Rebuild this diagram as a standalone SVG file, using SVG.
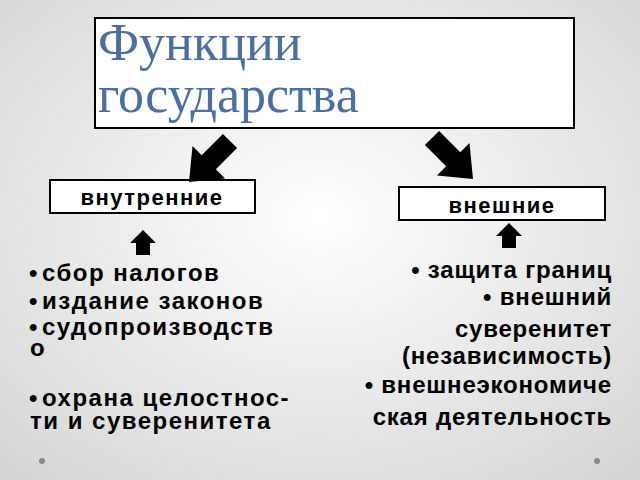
<svg xmlns="http://www.w3.org/2000/svg" width="640" height="480" viewBox="0 0 640 480">
<defs>
<radialGradient id="bg" cx="50%" cy="45%" r="75%">
<stop offset="0" stop-color="#ffffff"/><stop offset="1" stop-color="#d4d4d4"/>
</radialGradient>
<polygon id="arr" points="0,-10 30,-10 30,-23 58,0 30,23 30,10 0,10"/>
<polygon id="up" points="-7,12 -7,0 -13,0 0,-13 13,0 7,0 7,12"/>
</defs>
<style>
.box{fill:#fff;stroke:#000;stroke-width:2}
.lbl{font-family:"Liberation Sans",Arial,sans-serif;font-weight:bold;font-size:22px;letter-spacing:1.5px;fill:#000}
.li{font-family:"Liberation Sans",Arial,sans-serif;font-weight:bold;font-size:24px;fill:#000}
.ls{letter-spacing:1.5px}
.rs{letter-spacing:0.8px}
.ttl{font-family:"Liberation Serif","Times New Roman",serif;font-size:52px;fill:#4a6fa5}
.dot{fill:#8a8a8a}
</style>
<rect width="640" height="480" fill="url(#bg)"/>
<g id="title"><rect class="box" x="95" y="18" width="479" height="110"/>
<text class="ttl" x="98" y="60">Функции</text><text class="ttl" x="98" y="112">государства</text></g>
<g id="internal"><rect class="box" x="50" y="180" width="205" height="33"/><text class="lbl" x="152" y="205" text-anchor="middle">внутренние</text></g>
<g id="external"><rect class="box" x="399" y="187" width="206" height="33"/><text class="lbl" x="502" y="213" text-anchor="middle">внешние</text></g>
<g id="connectors" fill="#000">
<use href="#arr" transform="translate(230,141) rotate(135)"/>
<use href="#arr" transform="translate(432,138) rotate(45)"/>
<use href="#up" transform="translate(143,243)"/>
<use href="#up" transform="translate(509,236)"/>
</g>
<g id="left-list" class="li">
<text x="29" y="281">•</text><text class="ls" x="42" y="281">сбор налогов</text>
<text x="29" y="309">•</text><text class="ls" x="42" y="309">издание законов</text>
<text x="29" y="335">•</text><text class="ls" x="42" y="335">судопроизводств</text>
<text class="ls" x="30" y="356">о</text>
<text x="29" y="406">•</text><text class="ls" x="42" y="406">охрана целостнос-</text>
<text class="ls" x="30" y="429">ти и суверенитета</text>
</g>
<g id="right-list" class="li rs" text-anchor="end">
<text x="612" y="278">• защита границ</text>
<text x="612" y="305">• внешний</text>
<text x="612" y="337">суверенитет</text>
<text x="612" y="364">(независимость)</text>
<text x="612" y="393">• внешнеэкономиче</text>
<text x="612" y="425">ская деятельность</text>
</g>
<circle class="dot" cx="42" cy="461" r="3"/><circle class="dot" cx="597" cy="461" r="3"/>
</svg>
